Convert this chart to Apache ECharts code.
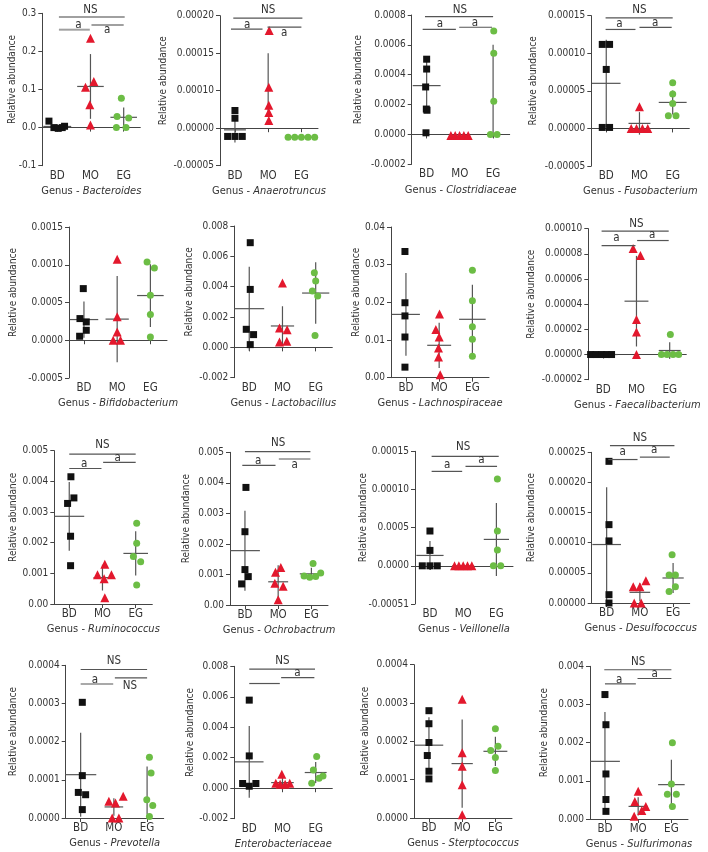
<!DOCTYPE html>
<html><head><meta charset="utf-8">
<script src="https://cdn.jsdelivr.net/npm/echarts@6/dist/echarts.min.js"></script>
<style>html,body{margin:0;padding:0;background:#fff}#c{width:708px;height:852px}</style>
</head><body><div id="c"></div>
<script>
const categories = ['BD', 'MO', 'EG'];
const genera = ['Bacteroides','Anaerotruncus','Clostridiaceae','Fusobacterium','Bifidobacterium','Lactobacillus','Lachnospiraceae','Faecalibacterium','Ruminococcus','Ochrobactrum','Veillonella','Desulfococcus','Prevotella','Enterobacteriaceae','Sterptococcus','Sulfurimonas'];

// ---- 1 Bacteroides
const bacteroidesTicks = ['-0.1','0.0','0.1','0.2','0.3'];
const bacteroidesAxis = [-0.1, 0.1];
const bacteroidesValues = [[0.017,0.0,-0.002,0.0,0.0035],[0.2346,0.106,0.121,0.060,0.007],[0.077,0.029,0.025,0.0,0.0]];
const bacteroidesJitter = [[-0.25,-0.1,0.03,0.15,0.22],[0,-0.15,0.1,-0.02,0],[-0.07,-0.2,0.15,-0.22,0.07]];
const bacteroidesMean = [0.003,0.108,0.027];
const bacteroidesSD = [0.006,0.085,0.026];
const bacteroidesSig = [[1.05,3.03,0.29,'NS',2.0,0.309],[1.05,1.98,0.257,'a',1.64,0.27],[2.03,3.0,0.2696,'a',2.5,0.2565]];

// ---- 2 Anaerotruncus
const anaerotruncusTicks = ['-0.00005','0.00000','0.00010','0.00015','0.00020'];
const anaerotruncusAxis = [-0.00005, 0.00005];
const anaerotruncusValues = [[2.36e-5,1.33e-5,-1.1e-5,-1.1e-5,-1.1e-5],[1.302e-4,5.47e-5,3.07e-5,2.09e-5,1.02e-5],[-1.2e-5,-1.2e-5,-1.2e-5,-1.2e-5,-1.2e-5]];
const anaerotruncusJitter = [[0,0,-0.22,0,0.22],[0.03,0.02,0.02,0.02,0.02],[-0.4,-0.2,0,0.2,0.4]];
const anaerotruncusMean = [-2.2e-6,5.9e-5,-1.2e-5];
const anaerotruncusSD = [1.7e-5,4.1e-5,0];
const anaerotruncusSig = [[0.95,3.03,1.467e-4,'NS',2.0,1.578e-4],[0.88,1.83,1.32e-4,'a',1.37,1.378e-4],[1.98,3.0,1.347e-4,'a',2.48,1.267e-4]];

// ---- 3 Clostridiaceae
const clostridiaceaeTicks = ['-0.0002','0.0000','0.0002','0.0004','0.0006','0.0008'];
const clostridiaceaeAxis = [-0.0002, 0.0002];
const clostridiaceaeValues = [[5.04e-4,4.38e-4,3.18e-4,1.7e-4,1.62e-4,1.1e-5],[-7e-6,-7e-6,-7e-6,-7e-6,-7e-6],[6.93e-4,5.44e-4,2.22e-4,0,0]];
const clostridiaceaeJitter = [[0,0,-0.03,-0.01,0.01,-0.02],[-0.27,-0.14,-0.01,0.12,0.25],[0.02,0.02,0.02,-0.08,0.12]];
const clostridiaceaeMean = [3.27e-4,-1.1e-5,2.9e-4];
const clostridiaceaeSD = [1.8e-4,0,3.1e-4];
const clostridiaceaeSig = [[0.95,3.0,7.89e-4,'NS',2.0,8.33e-4],[0.88,1.88,7.04e-4,'a',1.4,7.38e-4],[1.98,2.97,7.18e-4,'a',2.45,7.49e-4]];

// ---- 4 Fusobacterium
const fusobacteriumTicks = ['-0.00005','0.00000','0.00005','0.00010','0.00015'];
const fusobacteriumAxis = [-0.00005, 0.00005];
const fusobacteriumValues = [[1.118e-4,1.118e-4,7.85e-5,1.3e-6,1.3e-6],[2.88e-5,0,0,0,0],[6.08e-5,4.57e-5,3.33e-5,1.69e-5,1.69e-5]];
const fusobacteriumJitter = [[-0.12,0.1,0,-0.12,0.1],[0,-0.25,-0.09,0.09,0.25],[0,0,0,-0.13,0.1]];
const fusobacteriumMean = [6.0e-5,6.7e-6,3.46e-5];
const fusobacteriumSD = [5.8e-5,1.5e-5,1.6e-5];
const fusobacteriumSig = [[0.98,3.0,1.472e-4,'NS',2.0,1.574e-4],[0.98,1.88,1.317e-4,'a',1.4,1.384e-4],[2.0,2.97,1.344e-4,'a',2.47,1.406e-4]];

// ---- 5 Bifidobacterium
const bifidobacteriumTicks = ['-0.0005','0.0000','0.0005','0.0010','0.0015'];
const bifidobacteriumAxis = [-0.0005, 0.0005];
const bifidobacteriumValues = [[6.84e-4,2.87e-4,2.43e-4,1.32e-4,5.3e-5],[1.073e-3,3.1e-4,1.1e-4,0,0],[1.038e-3,9.58e-4,5.96e-4,3.4e-4,4.4e-5]];
const bifidobacteriumJitter = [[-0.02,-0.12,0.07,0.07,-0.13],[0,0,0,-0.12,0.1],[-0.1,0.12,0,0,0]];
const bifidobacteriumMean = [2.74e-4,2.8e-4,5.92e-4];
const bifidobacteriumSD = [2.4e-4,5.7e-4,4.15e-4];
const bifidobacteriumSig = [];

// ---- 6 Lactobacillus
const lactobacillusTicks = ['-0.002','0.000','0.002','0.004','0.006','0.008'];
const lactobacillusAxis = [-0.002, 0.002];
const lactobacillusValues = [[6.9e-3,3.82e-3,1.19e-3,8.4e-4,1.8e-4],[4.24e-3,1.27e-3,1.16e-3,3.5e-4,4.0e-4],[4.92e-3,4.37e-3,3.71e-3,3.38e-3,7.9e-4]];
const lactobacillusJitter = [[0.03,0.03,-0.09,0.13,0.03],[0,-0.09,0.14,-0.09,0.13],[-0.04,0,-0.1,0.06,-0.02]];
const lactobacillusMean = [2.55e-3,1.41e-3,3.58e-3];
const lactobacillusSD = [2.77e-3,1.3e-3,2.03e-3];
const lactobacillusSig = [];

// ---- 7 Lachnospiraceae
const lachnospiraceaeTicks = ['0.00','0.01','0.02','0.03','0.04'];
const lachnospiraceaeAxis = [0, 0.01];
const lachnospiraceaeValues = [[0.0335,0.0199,0.0164,0.0108,0.0028],[0.0169,0.0128,0.0108,0.0079,0.0055,0.0008],[0.0285,0.0204,0.0135,0.0102,0.0057]];
const lachnospiraceaeJitter = [[-0.03,-0.03,-0.03,-0.03,-0.03],[0.01,-0.1,0,-0.02,-0.02,0.03],[0,0,0,0,0]];
const lachnospiraceaeMean = [0.0168,0.0086,0.0155];
const lachnospiraceaeSD = [0.011,0.006,0.0092];
const lachnospiraceaeSig = [];

// ---- 8 Faecalibacterium
const faecalibacteriumTicks = ['-0.00002','0.00000','0.00002','0.00004','0.00006','0.00008','0.00010'];
const faecalibacteriumAxis = [-0.00002, 0.00002];
const faecalibacteriumValues = [[0,0,0,0,0],[8.42e-5,7.87e-5,2.78e-5,1.8e-5,0],[1.59e-5,0,0,0,0]];
const faecalibacteriumJitter = [[-0.38,-0.22,-0.05,0.1,0.25],[-0.1,0.12,0,0,0],[0.02,-0.25,-0.08,0.1,0.27]];
const faecalibacteriumMean = [0,4.24e-5,3.2e-6];
const faecalibacteriumSD = [0,3.6e-5,6.6e-6];
const faecalibacteriumSig = [[0.95,2.97,9.8e-5,'NS',2.0,1.04e-4],[0.95,1.97,8.66e-5,'a',1.4,9.27e-5],[2.02,2.97,9.06e-5,'a',2.47,9.48e-5]];

// ---- 9 Ruminococcus
const ruminococcusTicks = ['0.00','0.001','0.002','0.003','0.004','0.005'];
const ruminococcusAxis = [0, 0.001];
const ruminococcusValues = [[4.15e-3,3.46e-3,3.28e-3,2.21e-3,1.25e-3],[1.3e-3,9.5e-4,9.5e-4,8.2e-4,2.0e-4],[2.63e-3,1.98e-3,1.55e-3,1.38e-3,6.2e-4]];
const ruminococcusJitter = [[0.05,0.14,-0.05,0.04,0.04],[0.07,-0.15,0.27,0.05,0.07],[0.03,0.03,-0.07,0.15,0.03]];
const ruminococcusMean = [2.86e-3,8.6e-4,1.65e-3];
const ruminococcusSD = [1.12e-3,4.2e-4,7.2e-4];
const ruminococcusSig = [[1.0,3.0,4.89e-3,'NS',2.0,5.2e-3],[1.0,1.97,4.42e-3,'a',1.45,4.57e-3],[2.02,3.0,4.62e-3,'a',2.46,4.75e-3]];

// ---- 10 Ochrobactrum
const ochrobactrumTicks = ['0.00','0.001','0.002','0.003','0.004','0.005'];
const ochrobactrumAxis = [0, 0.001];
const ochrobactrumValues = [[3.85e-3,2.4e-3,1.16e-3,9.3e-4,6.9e-4],[1.23e-3,1.07e-3,7.1e-4,6.1e-4,1.7e-4],[1.36e-3,9.5e-4,9.1e-4,9.3e-4,1.05e-3]];
const ochrobactrumJitter = [[0.03,0,0,0.1,-0.1],[0.08,-0.08,-0.1,0.15,0],[0.05,-0.22,-0.05,0.13,0.28]];
const ochrobactrumMean = [1.78e-3,7.6e-4,1.02e-3];
const ochrobactrumSD = [1.31e-3,5.4e-4,2.0e-4];
const ochrobactrumSig = [[1.0,2.97,5.02e-3,'NS',2.0,5.29e-3],[0.92,1.92,4.57e-3,'a',1.4,4.73e-3],[2.02,2.97,4.78e-3,'a',2.5,4.59e-3]];

// ---- 11 Veillonella
const veillonellaTicks = ['-0.00051','0.0000','0.0005','0.00010','0.00015'];
const veillonellaAxis = [-0.00005, 0.00005];
const veillonellaValues = [[4.56e-5,2.02e-5,0,0,0],[0,0,0,0,0],[1.136e-4,4.56e-5,2.06e-5,0,0]];
const veillonellaJitter = [[0,0,-0.23,0,0.22],[-0.26,-0.13,0,0.13,0.26],[0.03,0.03,0.03,-0.09,0.13]];
const veillonellaMean = [1.36e-5,0,3.46e-5];
const veillonellaSD = [1.9e-5,0,4.78e-5];
const veillonellaSig = [[1.05,3.07,1.434e-4,'NS',2.0,1.55e-4],[1.05,1.97,1.237e-4,'a',1.52,1.325e-4],[2.07,3.02,1.303e-4,'a',2.55,1.386e-4]];

// ---- 12 Desulfococcus
const desulfococcusTicks = ['0.00000','0.00005','0.00010','0.00015','0.00020','0.00025'];
const desulfococcusAxis = [0, 0.00005];
const desulfococcusValues = [[2.35e-4,1.3e-4,1.03e-4,1.38e-5,0],[2.7e-5,2.7e-5,3.7e-5,0,0],[8.0e-5,4.65e-5,4.65e-5,2.7e-5,1.9e-5]];
const desulfococcusJitter = [[0.07,0.07,0.07,0.07,0.07],[-0.2,0,0.18,-0.17,0.04],[-0.03,-0.12,0.07,0.07,-0.12]];
const desulfococcusMean = [9.7e-5,1.77e-5,4.15e-5];
const desulfococcusSD = [9.5e-5,1.5e-5,2.5e-5];
const desulfococcusSig = [[1.1,3.04,2.61e-4,'NS',2.0,2.74e-4],[1.05,1.93,2.38e-4,'a',1.48,2.5e-4],[2.0,2.9,2.42e-4,'a',2.43,2.53e-4]];

// ---- 13 Prevotella
const prevotellaTicks = ['0.0000','0.0001','0.0002','0.0003','0.0004'];
const prevotellaAxis = [0, 0.0001];
const prevotellaValues = [[3.03e-4,1.11e-4,6.7e-5,6.1e-5,2.2e-5],[4.4e-5,3.9e-5,5.7e-5,0,0],[1.59e-4,1.18e-4,4.8e-5,3.3e-5,4e-6]];
const prevotellaJitter = [[0.05,0.05,-0.07,0.15,0.05],[-0.15,0.05,0.28,-0.05,0.15],[0.07,0.12,-0.01,0.17,0.07]];
const prevotellaMean = [1.135e-4,2.9e-5,7.2e-5];
const prevotellaSD = [1.1e-4,2.3e-5,6.3e-5];
const prevotellaSig = [[1.0,3.0,3.89e-4,'NS',2.0,4.1e-4],[1.0,1.98,3.51e-4,'a',1.43,3.62e-4],[2.03,3.0,3.67e-4,'NS',2.48,3.47e-4]];

// ---- 14 Enterobacteriaceae
const enterobacteriaceaeTicks = ['-0.002','0.000','0.002','0.004','0.006','0.008'];
const enterobacteriaceaeAxis = [-0.002, 0.002];
const enterobacteriaceaeValues = [[5.78e-3,2.12e-3,3.1e-4,3.1e-4,1.3e-4],[9.2e-4,3.3e-4,2.6e-4,2.6e-4,3.3e-4],[2.08e-3,1.2e-3,3.3e-4,6.6e-4,8.1e-4]];
const enterobacteriaceaeJitter = [[0,0,-0.2,0.2,0],[-0.02,-0.2,-0.07,0.08,0.22],[0.03,-0.07,-0.12,0.1,0.22]];
const enterobacteriaceaeMean = [1.73e-3,3.7e-4,1.03e-3];
const enterobacteriaceaeSD = [2.35e-3,5e-4,6.9e-4];
const enterobacteriaceaeSig = [[1.0,2.98,7.81e-3,'NS',2.0,8.36e-3],[1.0,1.92,6.87e-3,'',1.5,6.87e-3],[1.96,2.96,7.26e-3,'a',2.45,7.59e-3]];

// ---- 15 Sterptococcus
const sterptococcusTicks = ['0.0000','0.0001','0.0002','0.0003','0.0004'];
const sterptococcusAxis = [0, 0.0001];
const sterptococcusValues = [[2.8e-4,2.46e-4,1.97e-4,1.63e-4,1.22e-4,1.02e-4],[3.1e-4,1.7e-4,1.35e-4,8.7e-5,8.7e-6],[2.33e-4,1.76e-4,1.87e-4,1.58e-4,1.24e-4]];
const sterptococcusJitter = [[0,0,0,-0.05,0,0],[0,0,0,0,0],[0,-0.14,0.08,0,0]];
const sterptococcusMean = [1.9e-4,1.42e-4,1.74e-4];
const sterptococcusSD = [7.3e-5,1.15e-4,3.8e-5];
const sterptococcusSig = [];

// ---- 16 Sulfurimonas
const sulfurimonasTicks = ['0.000','0.001','0.002','0.003','0.004'];
const sulfurimonasAxis = [0, 0.001];
const sulfurimonasValues = [[3.26e-3,2.47e-3,1.18e-3,5.1e-4,2.0e-4],[7.25e-4,4.6e-4,3.3e-4,2.2e-4,7e-5],[2.0e-3,9.2e-4,6.5e-4,6.5e-4,3.3e-4]];
const sulfurimonasJitter = [[0,0.03,0.03,0.03,0.03],[0,-0.1,0.23,0.11,-0.12],[0.03,0,-0.12,0.15,0.03]];
const sulfurimonasMean = [1.51e-3,3.3e-4,9.0e-4];
const sulfurimonasSD = [1.29e-3,2.4e-4,6.5e-4];
const sulfurimonasSig = [[0.98,3.0,3.91e-3,'NS',2.0,4.11e-3],[1.0,1.93,3.54e-3,'a',1.43,3.65e-3],[1.98,3.0,3.68e-3,'a',2.5,3.81e-3]];

// ---- layout (pixels) and styles
const gridLeft = [42.3,220,411.7,591.3, 69,234.3,391,588.3, 54.3,230,415,591.7, 65.7,234.3,414,590];
const gridTop = [13.3,15.7,15,15.7, 227,226,227,228.7, 450.7,452.3,451.3,452.3, 665.3,666.3,664.7,666.3];
const gridBottom = [165.7,165.7,164.3,166, 378,377.7,377.7,379.7, 604,605,604,603, 818,818.7,818,819];
const gridWidth = 98;
const yNameGap = [24.5,51.5,48.5,52.5, 50.5,39.5,29.5,52, 35.5,38.5,46.5,55.5, 47.5,38.5,44,40.5];
const meanHalfWidth = [
  [0.42,0.4,0.4],[0.33,0,0.42],[0.42,0.31,0],[0.43,0.33,0.42],
  [0.43,0.35,0.4],[0.45,0.35,0.41],[0.42,0.36,0.4],[0.43,0.36,0.33],
  [0.45,0.27,0.37],[0.45,0.3,0.35],[0.41,0.33,0.38],[0.43,0.31,0.32],
  [0.47,0.28,0],[0.43,0.34,0.33],[0.43,0.32,0.36],[0.45,0.29,0.4]
];
const X_MIN = 0.55, X_MAX = 3.5;
const FONT = "'DejaVu Sans Condensed', 'DejaVu Sans', sans-serif";
const TEXT = '#333';
const colors = ['#111111', '#e3182d', '#6cbd45'];
const symbols = ['rect', 'triangle', 'circle'];
const symbolSizes = [7, 9, 7];
const FS_TICK = 10, FS_NAME = 10, FS_CAT = 11.5, FS_XNAME = 11, FS_SIG = 11.5;

const panels = [
  [bacteroidesTicks,bacteroidesAxis,bacteroidesValues,bacteroidesJitter,bacteroidesMean,bacteroidesSD,bacteroidesSig],
  [anaerotruncusTicks,anaerotruncusAxis,anaerotruncusValues,anaerotruncusJitter,anaerotruncusMean,anaerotruncusSD,anaerotruncusSig],
  [clostridiaceaeTicks,clostridiaceaeAxis,clostridiaceaeValues,clostridiaceaeJitter,clostridiaceaeMean,clostridiaceaeSD,clostridiaceaeSig],
  [fusobacteriumTicks,fusobacteriumAxis,fusobacteriumValues,fusobacteriumJitter,fusobacteriumMean,fusobacteriumSD,fusobacteriumSig],
  [bifidobacteriumTicks,bifidobacteriumAxis,bifidobacteriumValues,bifidobacteriumJitter,bifidobacteriumMean,bifidobacteriumSD,bifidobacteriumSig],
  [lactobacillusTicks,lactobacillusAxis,lactobacillusValues,lactobacillusJitter,lactobacillusMean,lactobacillusSD,lactobacillusSig],
  [lachnospiraceaeTicks,lachnospiraceaeAxis,lachnospiraceaeValues,lachnospiraceaeJitter,lachnospiraceaeMean,lachnospiraceaeSD,lachnospiraceaeSig],
  [faecalibacteriumTicks,faecalibacteriumAxis,faecalibacteriumValues,faecalibacteriumJitter,faecalibacteriumMean,faecalibacteriumSD,faecalibacteriumSig],
  [ruminococcusTicks,ruminococcusAxis,ruminococcusValues,ruminococcusJitter,ruminococcusMean,ruminococcusSD,ruminococcusSig],
  [ochrobactrumTicks,ochrobactrumAxis,ochrobactrumValues,ochrobactrumJitter,ochrobactrumMean,ochrobactrumSD,ochrobactrumSig],
  [veillonellaTicks,veillonellaAxis,veillonellaValues,veillonellaJitter,veillonellaMean,veillonellaSD,veillonellaSig],
  [desulfococcusTicks,desulfococcusAxis,desulfococcusValues,desulfococcusJitter,desulfococcusMean,desulfococcusSD,desulfococcusSig],
  [prevotellaTicks,prevotellaAxis,prevotellaValues,prevotellaJitter,prevotellaMean,prevotellaSD,prevotellaSig],
  [enterobacteriaceaeTicks,enterobacteriaceaeAxis,enterobacteriaceaeValues,enterobacteriaceaeJitter,enterobacteriaceaeMean,enterobacteriaceaeSD,enterobacteriaceaeSig],
  [sterptococcusTicks,sterptococcusAxis,sterptococcusValues,sterptococcusJitter,sterptococcusMean,sterptococcusSD,sterptococcusSig],
  [sulfurimonasTicks,sulfurimonasAxis,sulfurimonasValues,sulfurimonasJitter,sulfurimonasMean,sulfurimonasSD,sulfurimonasSig]
];

const txt = (size, extra) => Object.assign({ color: TEXT, fontFamily: FONT, fontSize: size }, extra || {});

const grid = [], xAxis = [], yAxis = [], series = [];
panels.forEach((p, i) => {
  const [ticks, axis, values, jitter, mean, sd, sig] = p;
  const yMin = axis[0], step = axis[1];
  const yMax = yMin + step * (ticks.length - 1);
  grid.push({ left: gridLeft[i], top: gridTop[i], width: gridWidth, height: gridBottom[i] - gridTop[i] });
  const genus = genera[i];
  const xname = genus === 'Enterobacteriaceae' ? `{i|${genus}}` : `{n|Genus - }{i|${genus}}`;
  xAxis.push({
    type: 'value', gridIndex: i, min: X_MIN, max: X_MAX,
    name: xname, nameLocation: 'middle', nameGap: 20,
    nameTextStyle: txt(FS_XNAME, { rich: { n: txt(FS_XNAME), i: txt(FS_XNAME, { fontStyle: 'italic' }) } }),
    axisLine: { lineStyle: { color: '#444', width: 1 } },
    axisTick: { show: true, length: 4, customValues: [1, 2, 3], lineStyle: { color: '#444' } },
    axisLabel: txt(FS_CAT, { customValues: [1, 2, 3], formatter: v => categories[Math.round(v) - 1], margin: 4 }),
    splitLine: { show: false }
  });
  yAxis.push({
    type: 'value', gridIndex: i, min: yMin, max: yMax, interval: step,
    name: 'Relative abundance', nameLocation: 'middle', nameGap: yNameGap[i], nameRotate: 90, nameMoveOverlap: false,
    nameTextStyle: txt(FS_NAME, { padding: [0, 0, 0, 20] }),
    axisLine: { show: true, lineStyle: { color: '#444', width: 1 } },
    axisTick: { show: true, length: 4, lineStyle: { color: '#444' } },
    axisLabel: txt(FS_TICK, { margin: 6, formatter: v => ticks[Math.round((v - yMin) / step)] }),
    splitLine: { show: false }
  });
  // mean + SD lines
  const stats = [0, 1, 2].map(g => [g + 1, mean[g], sd[g], meanHalfWidth[i][g]]);
  series.push({
    type: 'custom', xAxisIndex: i, yAxisIndex: i, z: 2, silent: true,
    data: stats,
    renderItem: (params, api) => {
      const x = api.value(0), m = api.value(1), s = api.value(2), hw = api.value(3);
      const lo = Math.max(m - s, yMin), hi = Math.min(m + s, yMax);
      const pLo = api.coord([x, lo]), pHi = api.coord([x, hi]);
      const children = [];
      if (s > 0) children.push({ type: 'line', shape: { x1: pLo[0], y1: pLo[1], x2: pHi[0], y2: pHi[1] }, style: { stroke: '#555', lineWidth: 1.2 } });
      if (hw > 0) {
        const pL = api.coord([x - hw, m]), pR = api.coord([x + hw, m]);
        children.push({ type: 'line', shape: { x1: pL[0], y1: pL[1], x2: pR[0], y2: pR[1] }, style: { stroke: '#555', lineWidth: 1.2 } });
      }
      return { type: 'group', children };
    }
  });
  // points
  values.forEach((vals, g) => {
    series.push({
      type: 'scatter', xAxisIndex: i, yAxisIndex: i, z: 3, silent: true,
      symbol: symbols[g], symbolSize: symbolSizes[g],
      itemStyle: { color: colors[g], opacity: 1 },
      data: vals.map((v, k) => [g + 1 + jitter[g][k], v])
    });
  });
  // significance bars
  if (sig.length) {
    const light = i === 0;
    series.push({
      type: 'custom', xAxisIndex: i, yAxisIndex: i, z: 4, silent: true, clip: false,
      data: sig.map(s => [s[0], s[2]]),
      renderItem: (params, api) => {
        const s = sig[params.dataIndex];
        const p1 = api.coord([s[0], s[2]]), p2 = api.coord([s[1], s[2]]);
        const pt = api.coord([s[4], s[5]]);
        const children = [{ type: 'line', shape: { x1: p1[0], y1: p1[1], x2: p2[0], y2: p2[1] },
          style: { stroke: light ? '#a0a0a0' : '#555', lineWidth: light ? 2 : 1.2 } }];
        if (s[3]) children.push({ type: 'text', x: pt[0], y: pt[1],
          style: { text: s[3], fill: TEXT, font: `${FS_SIG}px ${FONT}`, align: 'center', verticalAlign: 'middle' } });
        return { type: 'group', children };
      }
    });
  }
});

const chart = echarts.init(document.getElementById('c'), null, { renderer: 'canvas' });
chart.setOption({ animation: false, backgroundColor: '#fff', grid, xAxis, yAxis, series });
</script></body></html>
